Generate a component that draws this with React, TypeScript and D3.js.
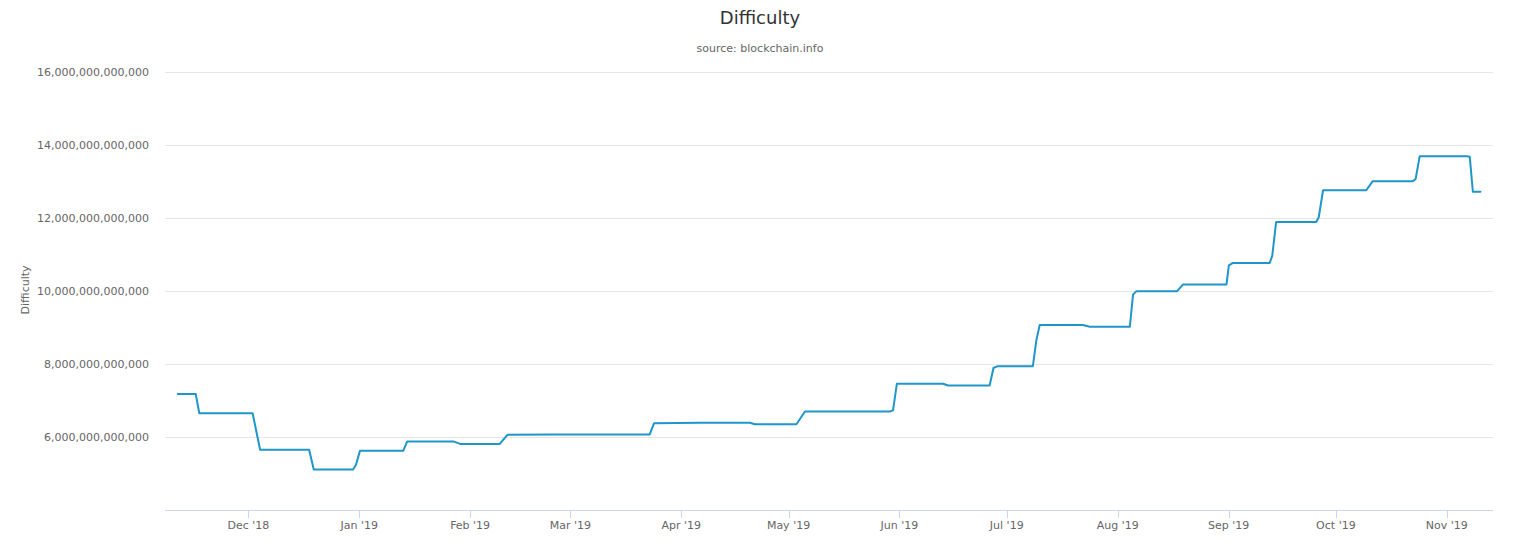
// Bitcoin difficulty, Nov 2018 – Nov 2019. Step line, one point per corner.
import { useEffect, useRef } from "react";
import * as d3 from "d3";

const DATES: string[] = [
  "2018-11-11 07", "2018-11-16 07", "2018-11-17 07", "2018-12-02 05",
  "2018-12-04 07", "2018-12-18 00", "2018-12-19 07", "2018-12-30 07",
  "2018-12-31 02", "2019-01-01 05", "2019-01-13 07", "2019-01-14 10",
  "2019-01-27 07", "2019-01-29 05", "2019-02-09 07", "2019-02-11 10",
  "2019-02-24 05", "2019-03-23 05", "2019-03-24 10", "2019-04-06 05",
  "2019-04-20 05", "2019-04-21 14", "2019-05-03 05", "2019-05-05 14",
  "2019-05-29 07", "2019-05-30 05", "2019-05-31 07", "2019-06-13 05",
  "2019-06-14 14", "2019-06-26 05", "2019-06-27 07", "2019-06-28 12",
  "2019-07-08 07", "2019-07-09 07", "2019-07-10 05", "2019-07-22 07",
  "2019-07-24 05", "2019-08-04 10", "2019-08-05 07", "2019-08-06 05",
  "2019-08-17 14", "2019-08-19 07", "2019-08-31 10", "2019-09-01 02",
  "2019-09-02 05", "2019-09-12 12", "2019-09-13 05", "2019-09-14 07",
  "2019-09-25 12", "2019-09-26 05", "2019-09-27 10", "2019-10-09 12",
  "2019-10-11 07", "2019-10-22 12", "2019-10-23 07", "2019-10-24 10",
  "2019-11-06 17", "2019-11-07 10", "2019-11-08 07", "2019-11-10 10",
];

// difficulty in trillions
const VALUES: number[] = [
  7.18, 7.18, 6.65, 6.65,
  5.65, 5.65, 5.11, 5.11,
  5.24, 5.62, 5.62, 5.88,
  5.88, 5.81, 5.81, 6.06,
  6.07, 6.07, 6.38, 6.39,
  6.39, 6.35, 6.35, 6.70,
  6.70, 6.73, 7.46, 7.46,
  7.41, 7.41, 7.89, 7.94,
  7.94, 8.66, 9.07, 9.07,
  9.02, 9.02, 9.90, 9.99,
  9.99, 10.18, 10.18, 10.70,
  10.77, 10.77, 10.96, 11.89,
  11.89, 12.02, 12.76, 12.76,
  13.01, 13.01, 13.07, 13.69,
  13.69, 13.68, 12.72, 12.72,
];

const Y_TICKS = [6e12, 8e12, 10e12, 12e12, 14e12, 16e12];
const MONTHS = [
  "2018-12-01", "2019-01-01", "2019-02-01", "2019-03-01", "2019-04-01", "2019-05-01",
  "2019-06-01", "2019-07-01", "2019-08-01", "2019-09-01", "2019-10-01", "2019-11-01",
];

const FONT = "'DejaVu Sans', 'Lucida Grande', sans-serif";

export default function App() {
  const svgRef = useRef<SVGSVGElement | null>(null);

  useEffect(() => {
    const svg = d3.select(svgRef.current);
    svg.selectAll("*").remove();
    if (!svgRef.current) return;

    const W = 1519;
    const H = 550;
    const left = 165;
    const right = 1493;
    const top = 72;
    const bottom = 510;

    const parseT = d3.utcParse("%Y-%m-%d %H");
    const parseD = d3.utcParse("%Y-%m-%d");
    const rows = DATES.map((d, i) => ({ date: parseT(d)!, value: VALUES[i] * 1e12 }));

    const x = d3
      .scaleUtc()
      .domain([parseT("2018-11-07 17")!, parseT("2019-11-13 22")!])
      .range([left, right]);

    const y = d3.scaleLinear().domain([4e12, 16e12]).range([bottom, top]);

    svg.attr("viewBox", `0 0 ${W} ${H}`).attr("width", W).attr("height", H);

    // title + subtitle
    svg.append("text")
      .attr("x", 760).attr("y", 24)
      .attr("text-anchor", "middle")
      .attr("font-family", FONT).attr("font-size", 18)
      .attr("fill", "#333333")
      .text("Difficulty");
    svg.append("text")
      .attr("x", 760).attr("y", 52)
      .attr("text-anchor", "middle")
      .attr("font-family", FONT).attr("font-size", 11)
      .attr("fill", "#666666")
      .text("source: blockchain.info");

    // grid + y labels
    const yg = svg.append("g");
    yg.selectAll("line")
      .data(Y_TICKS)
      .join("line")
      .attr("x1", left).attr("x2", right)
      .attr("y1", (d) => Math.round(y(d)) + 0.5)
      .attr("y2", (d) => Math.round(y(d)) + 0.5)
      .attr("stroke", "#e6e6e6");
    yg.selectAll("text")
      .data(Y_TICKS)
      .join("text")
      .attr("x", 149)
      .attr("y", (d) => y(d) + 4)
      .attr("text-anchor", "end")
      .attr("font-family", FONT).attr("font-size", 11)
      .attr("fill", "#666666")
      .text((d) => d3.format(",.0f")(d));

    svg.append("text")
      .attr("transform", `translate(29,290) rotate(-90)`)
      .attr("text-anchor", "middle")
      .attr("font-family", FONT).attr("font-size", 11)
      .attr("fill", "#666666")
      .text("Difficulty");

    // x axis
    const xg = svg.append("g");
    xg.append("line")
      .attr("x1", left).attr("x2", right)
      .attr("y1", bottom + 0.5).attr("y2", bottom + 0.5)
      .attr("stroke", "#ccd6eb");
    const months = MONTHS.map((m) => parseD(m)!);
    xg.selectAll("line.tick")
      .data(months)
      .join("line")
      .attr("class", "tick")
      .attr("x1", (d) => Math.round(x(d)) + 0.5)
      .attr("x2", (d) => Math.round(x(d)) + 0.5)
      .attr("y1", bottom).attr("y2", bottom + 8)
      .attr("stroke", "#ccd6eb");
    xg.selectAll("text")
      .data(months)
      .join("text")
      .attr("x", (d) => x(d))
      .attr("y", 529)
      .attr("text-anchor", "middle")
      .attr("font-family", FONT).attr("font-size", 11)
      .attr("fill", "#666666")
      .text((d) => d3.utcFormat("%b '%y")(d));

    // the series
    const line = d3
      .line<{ date: Date; value: number }>()
      .x((d) => x(d.date))
      .y((d) => y(d.value));
    svg.append("path")
      .datum(rows)
      .attr("d", line)
      .attr("fill", "none")
      .attr("stroke", "#1f96c9")
      .attr("stroke-width", 2)
      .attr("stroke-linejoin", "round")
      .attr("stroke-linecap", "round");
  }, []);

  return (
    <svg
      ref={svgRef}
      style={{ position: "absolute", left: 0, top: 0, display: "block" }}
    />
  );
}
